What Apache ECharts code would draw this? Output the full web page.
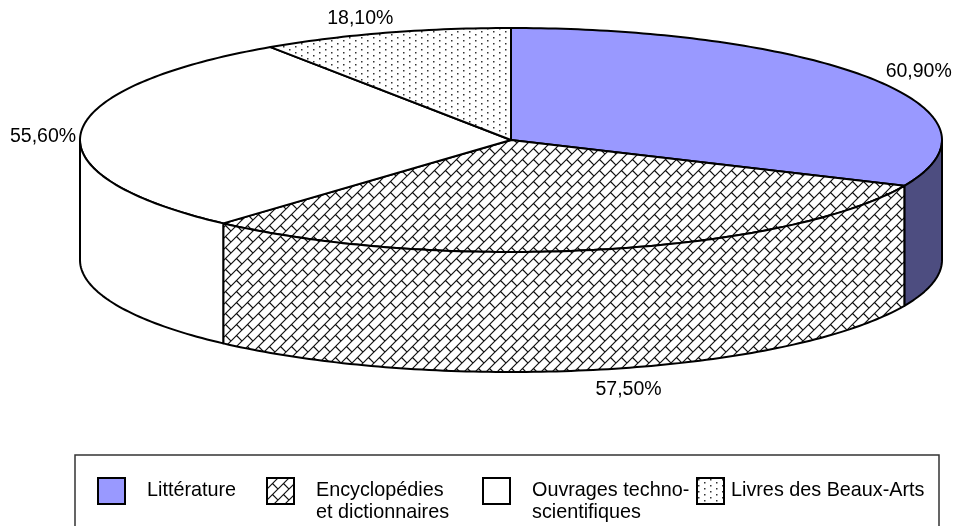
<!DOCTYPE html>
<html><head><meta charset="utf-8">
<style>html,body{margin:0;padding:0;background:#fff}#c{width:957px;height:526px}</style>
<script src="https://cdn.jsdelivr.net/npm/echarts@6/dist/echarts.min.js"></script>
</head><body><div id="c"></div>
<script>
var categories = ['Littérature', 'Encyclopédies\net dictionnaires', 'Ouvrages techno-\nscientifiques', 'Livres des Beaux-Arts'];
var values = [60.9, 57.5, 55.6, 18.1];
var labelOffsets = [[46, -7], [28, 20], [-38, 4], [-25, -14]];
var legendTextWidths = [119, 166, 164, 194];
var legendTextLeft = [17, 17, 17, 2];

var FONT = '19.5px "Liberation Sans", Arial, sans-serif';
var rimDepth = 120 / 112;

function tile(size, draw) {
  var c = document.createElement('canvas');
  c.width = size; c.height = size;
  var g = c.getContext('2d');
  g.fillStyle = '#fff'; g.fillRect(0, 0, size, size);
  draw(g, size);
  return { image: c, repeat: 'repeat' };
}
var brick = tile(11, function (g, s) {
  g.strokeStyle = '#111'; g.lineWidth = 1.2;
  g.beginPath();
  g.moveTo(-1, s + 1); g.lineTo(s + 1, -1);
  g.moveTo(-1, 1); g.lineTo(1, -1);
  g.moveTo(s - 1, s + 1); g.lineTo(s + 1, s - 1);
  var h = s / 2;
  g.moveTo(h, h); g.lineTo(s, s);
  g.moveTo(h, h - s); g.lineTo(s, 0);
  g.stroke();
});
var dots = tile(12, function (g) {
  g.fillStyle = '#333';
  [[1, 1], [7, 4], [1, 7], [7, 10]].forEach(function (p) { g.fillRect(p[0], p[1], 1.5, 1.5); });
});
var topFills = ['#9999FF', brick, '#FFFFFF', dots];
var sideFills = ['#4D4D80', brick, '#FFFFFF', dots];

var total = values.reduce(function (a, b) { return a + b; }, 0);
var starts = [];
values.reduce(function (a, v, i) { starts[i] = a; return a + v; }, 0);

function rimPoint(api, theta, drop) {
  return api.coord([Math.sin(theta), Math.cos(theta) - drop]);
}
function makeRender(i) {
  return function (params, api) {
    var a0 = api.value(0) / total * 2 * Math.PI;
    var a1 = (api.value(0) + api.value(1)) / total * 2 * Math.PI;
    var children = [];
    var stroke = { stroke: '#000', lineWidth: 2, lineJoin: 'round' };
    // top face
    var pts = [api.coord([0, 0])];
    var n = Math.ceil((a1 - a0) / (Math.PI / 180));
    for (var k = 0; k <= n; k++) pts.push(rimPoint(api, a0 + (a1 - a0) * k / n, 0));
    children.push({ type: 'polygon', shape: { points: pts },
      style: Object.assign({ fill: topFills[i] }, stroke) });
    // visible side wall (lower half of the rim)
    var s0 = Math.max(a0, Math.PI / 2), s1 = Math.min(a1, 1.5 * Math.PI);
    if (s1 > s0) {
      var side = [], m = Math.ceil((s1 - s0) / (Math.PI / 180)), q;
      for (q = 0; q <= m; q++) side.push(rimPoint(api, s0 + (s1 - s0) * q / m, 0));
      for (q = m; q >= 0; q--) side.push(rimPoint(api, s0 + (s1 - s0) * q / m, rimDepth));
      children.push({ type: 'polygon', shape: { points: side },
        style: Object.assign({ fill: sideFills[i] }, stroke) });
    }
    // data label at the middle of the slice
    var mid = (a0 + a1) / 2;
    var drop = (mid > Math.PI / 2 && mid < 1.5 * Math.PI) ? rimDepth : 0;
    var p = rimPoint(api, mid, drop);
    children.push({ type: 'text', x: p[0] + labelOffsets[i][0], y: p[1] + labelOffsets[i][1],
      style: { text: api.value(1).toFixed(2).replace('.', ',') + '%', font: FONT, fill: '#000',
        align: 'center', verticalAlign: 'middle' } });
    return { type: 'group', children: children };
  };
}

var chart = echarts.init(document.getElementById('c'), null, { renderer: 'canvas' });
chart.setOption({
  animation: false,
  backgroundColor: '#fff',
  grid: { left: 80, width: 862, top: 28, height: 344 },
  xAxis: { type: 'value', min: -1, max: 1, show: false },
  yAxis: { type: 'value', min: -1 - rimDepth, max: 1, show: false },
  legend: {
    left: 75, top: 455, orient: 'horizontal', width: 860, itemGap: 0,
    itemWidth: 27, itemHeight: 26, icon: 'rect', selectedMode: false,
    padding: [3, 14, 40, 22], borderColor: '#333', borderWidth: 1.5, backgroundColor: '#fff',
    textStyle: { fontFamily: '"Liberation Sans", Arial, sans-serif', fontSize: 19.8, lineHeight: 22, color: '#000' },
    formatter: function (name) { return name.indexOf('\n') >= 0 ? '\n' + name : name; },
    data: categories.map(function (name, i) {
      return {
        name: name,
        itemStyle: { color: topFills[i], borderColor: '#000', borderWidth: 2 },
        textStyle: { width: legendTextWidths[i], padding: [0, 0, 0, legendTextLeft[i]] }
      };
    })
  },
  series: categories.map(function (name, i) {
    return {
      type: 'custom', name: name, coordinateSystem: 'cartesian2d',
      clip: false, silent: true,
      itemStyle: { color: topFills[i] },
      encode: { x: 0, y: 1 },
      renderItem: makeRender(i),
      data: [[starts[i], values[i]]]
    };
  })
});
</script></body></html>
